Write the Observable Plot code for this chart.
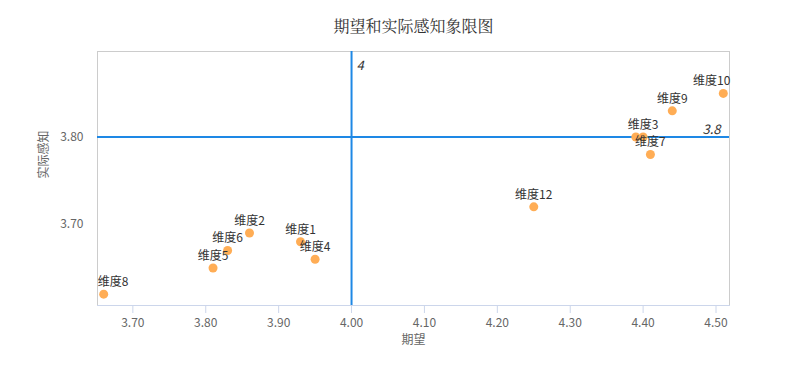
<!DOCTYPE html>
<html><head><meta charset="utf-8">
<script src="https://cdn.jsdelivr.net/npm/d3@7"></script>
<script src="https://cdn.jsdelivr.net/npm/@observablehq/plot@0.6"></script>
<style>body{margin:0;background:#fff} svg{display:block}</style>
</head><body><div id="chart"></div>
<script>
const names  = ["维度1","维度2","维度3","维度4","维度5","维度6","维度7","维度8","维度9","维度10","维度11","维度12"];
const expect = [3.93, 3.86, 4.40, 3.95, 3.81, 3.83, 4.41, 3.66, 4.44, 4.51, 4.39, 4.25];
const actual = [3.68, 3.69, 3.80, 3.66, 3.65, 3.67, 3.78, 3.62, 3.83, 3.85, 3.80, 3.72];
const hiddenLabels = ["维度11"];
const rightEdgeLabels = ["维度10"];
const leftEdgeLabels = ["维度8"];
const xTicks = [3.7, 3.8, 3.9, 4.0, 4.1, 4.2, 4.3, 4.4, 4.5];
const yTicks = [3.7, 3.8];
const refX = 4, refY = 3.8;
const title = "期望和实际感知象限图";
const xLabel = "期望", yLabel = "实际感知";

const data = names.map((n, i) => ({name: n, x: expect[i], y: actual[i]}));
const labelled = data.filter(d => !hiddenLabels.includes(d.name));
const middleLabels = labelled.filter(d => !rightEdgeLabels.includes(d.name) && !leftEdgeLabels.includes(d.name));
const blue = "#1e88e5", orange = "#ffad55";
const font = "'Noto Sans CJK SC', 'Noto Sans', sans-serif";

const chart = Plot.plot({
  width: 800, height: 369,
  marginTop: 51, marginRight: 71, marginBottom: 64, marginLeft: 97,
  style: {fontFamily: font, background: "#fff"},
  x: {domain: [3.6515, 4.5185]},
  y: {domain: [3.607, 3.898]},
  marks: [
    Plot.frame({stroke: "#cccccc"}),
    Plot.frame({anchor: "bottom", stroke: "#ccd6eb"}),
    Plot.axisX({ticks: xTicks, tickFormat: ".2f", tickSize: 8, stroke: "#ccd6eb", tickPadding: 5, fontSize: 12, fill: "#666", label: null}),
    Plot.axisY({ticks: yTicks, tickFormat: ".2f", tickSize: 0, tickPadding: 14, fontSize: 12, fill: "#666", label: null}),
    Plot.text([xLabel], {frameAnchor: "bottom", dy: 38, fontSize: 12, fill: "#666"}),
    Plot.text([yLabel], {frameAnchor: "left", dx: -53, rotate: -90, fontSize: 12, fill: "#666"}),
    Plot.text([title], {frameAnchor: "top", dy: -31, fontSize: 16, fill: "#333", fontFamily: "'Noto Serif CJK SC', serif"}),
    Plot.ruleX([refX], {stroke: blue, strokeWidth: 2}),
    Plot.ruleY([refY], {stroke: blue, strokeWidth: 2}),
    Plot.text([refX], {x: d => d, frameAnchor: "top", text: d => String(d), textAnchor: "start", dx: 5, dy: 9, fontStyle: "italic", fontSize: 13, fill: "#333"}),
    Plot.text([refY], {y: d => d, frameAnchor: "right", text: d => String(d), textAnchor: "end", dx: -9, dy: -7, fontStyle: "italic", fontSize: 13, fill: "#333"}),
    Plot.dot(data, {x: "x", y: "y", r: 4.5, fill: orange}),
    Plot.text(middleLabels, {x: "x", y: "y", text: "name", dy: -12, fontSize: 12, fill: "#333"}),
    Plot.text(labelled.filter(d => rightEdgeLabels.includes(d.name)), {x: "x", y: "y", text: "name", dy: -12, dx: 7, textAnchor: "end", fontSize: 12, fill: "#333"}),
    Plot.text(labelled.filter(d => leftEdgeLabels.includes(d.name)), {x: "x", y: "y", text: "name", dy: -12, dx: -6, textAnchor: "start", fontSize: 12, fill: "#333"})
  ]
});
document.getElementById("chart").appendChild(chart);
</script>
</body></html>
